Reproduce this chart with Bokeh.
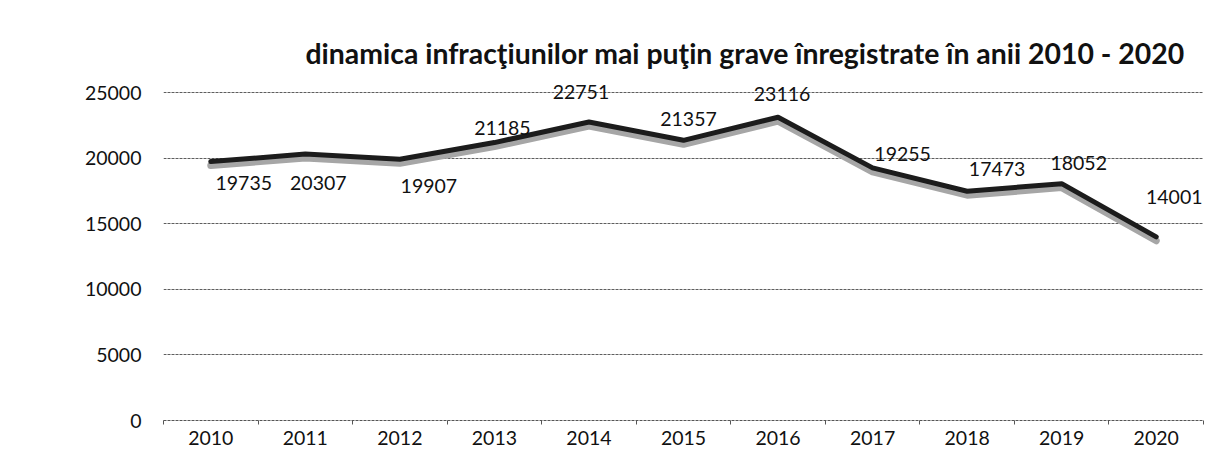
from bokeh.plotting import figure
from bokeh.models import Range1d, FixedTicker, ColumnDataSource, Title
from bokeh.core.properties import value
from bokeh.embed import file_html
from bokeh.resources import INLINE

# ---- data ----
years = ["2010", "2011", "2012", "2013", "2014", "2015", "2016", "2017", "2018", "2019", "2020"]
counts = [19735, 20307, 19907, 21185, 22751, 21357, 23116, 19255, 17473, 18052, 14001]
y_ticks = [0, 5000, 10000, 15000, 20000, 25000]
title_text = "dinamica infracţiunilor mai puţin grave înregistrate în anii 2010 - 2020"

# ---- label placement (style, pixels) ----
label_dx = [33, 13, 29, 8, -8, 5, 4, 30, 30, 17, 18]
label_dy = [21, 29, 27, -15, -30, -21, -23, -14, -22, -21, -40]

FONT = "Lato"
NUM_SIZE = "19.5px"

xs = list(range(len(years)))
src = ColumnDataSource(dict(
    x=xs, y=counts, label=[str(c) for c in counts], dx=label_dx, dy=label_dy,
))

p = figure(width=1223, height=452, output_backend="svg", toolbar_location=None,
           x_range=Range1d(-0.5, len(years) - 0.5), y_range=Range1d(y_ticks[0], 25840),
           min_border_left=163, min_border_right=20, min_border_top=81, min_border_bottom=32)
p.outline_line_color = None
p.background_fill_color = "white"
p.border_fill_color = "white"

p.title = Title(text=title_text, align="left", offset=142, text_font=FONT,
                text_font_size="28.4px", text_font_style="bold", text_color="#111111",
                standoff=24)

# shadow range (style: shifts shadow a few px down)
p.extra_y_ranges = {"shadow": Range1d(y_ticks[0] + 300, 25840 + 300)}

# grid
p.xgrid.grid_line_color = None
p.ygrid.ticker = FixedTicker(ticks=y_ticks)
p.ygrid.grid_line_color = "#5e5e5e"
p.ygrid.grid_line_width = 1
p.ygrid.grid_line_dash = "3 1"

# x axis
xa = p.xaxis[0]
xa.ticker = FixedTicker(ticks=xs, minor_ticks=[i - 0.5 for i in range(len(years) + 1)])
xa.major_label_overrides = {i: y for i, y in enumerate(years)}
xa.major_tick_line_color = None
xa.minor_tick_line_color = "#555555"
xa.minor_tick_out = 4
xa.minor_tick_in = 0
xa.axis_line_color = "#555555"
xa.axis_line_dash = "3 1"
xa.major_label_standoff = 4
xa.major_label_text_font = FONT
xa.major_label_text_font_size = NUM_SIZE
xa.major_label_text_color = "#111111"

# y axis
ya = p.yaxis[0]
ya.ticker = FixedTicker(ticks=y_ticks)
ya.axis_line_color = None
ya.major_tick_line_color = None
ya.minor_tick_line_color = None
ya.major_label_standoff = 16
ya.major_label_text_font = FONT
ya.major_label_text_font_size = NUM_SIZE
ya.major_label_text_color = "#111111"

# shadow + line
p.line("x", "y", source=src, y_range_name="shadow", line_color="#a6a6a6",
       line_width=7, line_join="round", line_cap="round")
p.line("x", "y", source=src, line_color="#1c1c1c", line_width=5,
       line_join="round", line_cap="round")

# data labels
p.text("x", "y", text="label", source=src, x_offset="dx", y_offset="dy",
       text_align="center", text_baseline="middle", text_font=value(FONT),
       text_font_size=NUM_SIZE, text_color="#111111")

open("out.html", "w").write(file_html(p, INLINE))
